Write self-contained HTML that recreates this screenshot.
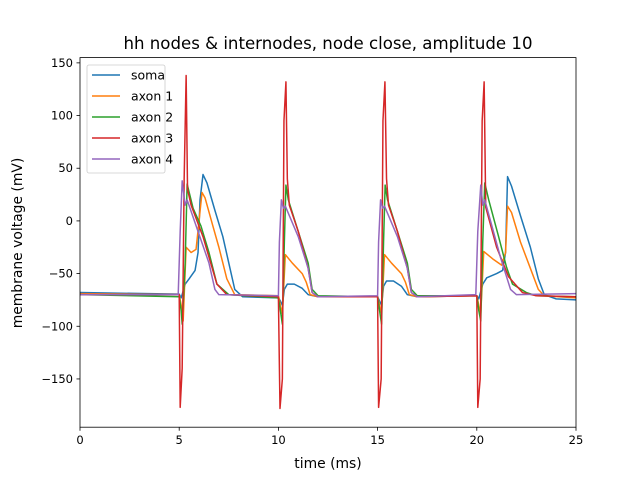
<!DOCTYPE html>
<html><head><meta charset="utf-8"><style>
body{margin:0;background:#fff}
svg{font-family:"DejaVu Sans","Liberation Sans",sans-serif}
</style></head><body>
<svg id="chart" width="640" height="480" viewBox="0 0 640 480">
<rect width="640" height="480" fill="#fff"/>
<text x="328" y="49" text-anchor="middle" font-size="16.6">hh nodes &amp; internodes, node close, amplitude 10</text>
<g id="plot"></g>
<g id="axes"></g>
<text x="328" y="468" text-anchor="middle" font-size="13.9">time (ms)</text>
<text transform="translate(22,243) rotate(-90)" text-anchor="middle" font-size="13.9">membrane voltage (mV)</text>
<g id="legend"></g>
</svg>
<script>
const xTicks=[0,5,10,15,20,25];
const yTicks=[150,100,50,0,-50,-100,-150];
const seriesNames=["soma","axon 1","axon 2","axon 3","axon 4"];
const colors=["#1f77b4","#ff7f0e","#2ca02c","#d62728","#9467bd"];
const soma=[[0,-68],[5,-69.5],[5.1,-73],[5.3,-60],[5.5,-55],[5.8,-47],[5.95,-30],[6.05,20],[6.2,44],[6.4,36],[6.8,10],[7.2,-15],[7.5,-40],[7.8,-65],[8.2,-72],[10,-73],[10.1,-76],[10.2,-80],[10.3,-65],[10.45,-60],[10.8,-60],[11.2,-64],[11.5,-70],[12,-72],[15,-72],[15.1,-76],[15.2,-80],[15.3,-62],[15.45,-57],[15.8,-57],[16.2,-62],[16.5,-70],[17,-72],[20,-71],[20.1,-74],[20.3,-60],[20.5,-54],[21,-50],[21.3,-47],[21.45,-30],[21.55,42],[21.75,33],[22.2,5],[22.7,-25],[23.1,-55],[23.4,-70],[24,-74],[25,-75]];
const axon1=[[0,-69],[5,-70],[5.1,-80],[5.2,-95],[5.35,-25],[5.6,-30],[5.85,-27],[6.0,0],[6.15,27],[6.3,22],[6.7,-5],[7.0,-25],[7.4,-55],[7.8,-70],[10,-71],[10.1,-80],[10.2,-88],[10.35,-32],[10.7,-40],[11.2,-50],[11.4,-58],[11.6,-70],[12,-72],[15,-72],[15.1,-80],[15.2,-88],[15.35,-32],[15.7,-40],[16.2,-50],[16.4,-58],[16.6,-70],[17,-72],[20,-71],[20.1,-80],[20.2,-88],[20.35,-29],[20.8,-36],[21.25,-42],[21.45,-30],[21.55,14],[21.75,8],[22.2,-20],[22.7,-45],[23.1,-65],[23.4,-71],[25,-73]];
const axon2=[[0,-70],[5,-72],[5.1,-85],[5.15,-98],[5.3,-40],[5.4,35],[5.7,12],[6.1,-5],[6.5,-30],[6.9,-60],[7.5,-70],[10,-73],[10.1,-85],[10.2,-98],[10.3,-20],[10.38,34],[10.5,20],[11,-10],[11.5,-40],[11.7,-65],[12,-71],[15,-72],[15.1,-85],[15.2,-98],[15.3,-20],[15.38,34],[15.5,20],[16,-10],[16.5,-40],[16.7,-65],[17,-71],[20,-71],[20.1,-85],[20.2,-95],[20.3,-20],[20.4,36],[20.6,20],[21.1,-15],[21.5,-44],[21.8,-60],[22.5,-68],[23,-71],[25,-72]];
const axon3=[[0,-70],[5,-70],[5.05,-177],[5.15,-140],[5.25,40],[5.35,138],[5.42,30],[5.6,15],[6.2,-15],[6.9,-60],[7.4,-70],[10,-72],[10.08,-178],[10.2,-150],[10.28,95],[10.38,132],[10.45,40],[10.55,15],[11,-10],[11.5,-45],[11.7,-68],[12,-72],[15,-72],[15.05,-177],[15.18,-150],[15.27,95],[15.37,132],[15.45,40],[15.55,15],[16,-10],[16.5,-45],[16.7,-68],[17,-72],[20,-71],[20.05,-177],[20.17,-150],[20.27,95],[20.37,132],[20.45,13],[21,-25],[21.6,-53],[22.3,-68],[23,-71],[25,-72]];
const axon4=[[0,-70],[4.95,-70],[5.05,-10],[5.15,38],[5.3,15],[5.4,20],[6.5,-40],[6.8,-65],[7.0,-70],[10,-71],[10.05,-20],[10.15,20],[10.25,12],[10.35,14],[11,-15],[11.5,-45],[11.7,-68],[12,-72],[15,-71],[15.05,-20],[15.15,20],[15.25,12],[15.35,14],[16,-15],[16.5,-45],[16.7,-68],[17,-72],[19.95,-70],[20.05,-10],[20.2,34],[20.3,15],[20.4,20],[21.2,-35],[21.7,-65],[22,-70],[25,-69]];
const allSeries=[soma,axon1,axon2,axon3,axon4];

const L=80,R=576,T=57.6,B=427.2,xMin=0,xMax=25,yMin=-195.8,yMax=155;
const sx=t=>L+(t-xMin)/(xMax-xMin)*(R-L);
const sy=v=>B-(v-yMin)/(yMax-yMin)*(B-T);
const NS="http://www.w3.org/2000/svg";
function mk(tag,attrs,parent){const e=document.createElementNS(NS,tag);for(const k in attrs)e.setAttribute(k,attrs[k]);parent.appendChild(e);return e;}
const plot=document.getElementById('plot'),axes=document.getElementById('axes'),legend=document.getElementById('legend');
const cp=mk('clipPath',{id:'clip'},plot);mk('rect',{x:L,y:T,width:R-L,height:B-T},cp);
allSeries.forEach((s,i)=>{
  const p=mk('path',{d:s.map((pt,j)=>(j?'L':'M')+sx(pt[0]).toFixed(2)+' '+sy(pt[1]).toFixed(2)).join(' '),fill:'none',stroke:colors[i],'stroke-width':1.5,'stroke-linejoin':'round','clip-path':'url(#clip)'},plot);
  
  
});
const frame=mk('rect',{x:L,y:T,width:R-L,height:B-T,fill:'none',stroke:'#000','stroke-width':0.8},axes);


xTicks.forEach(t=>{
  const x=sx(t);
  const tk=mk('line',{x1:x,x2:x,y1:B,y2:B+3.5,stroke:'#000','stroke-width':0.8},axes);
  
  
  const lb=mk('text',{x:x,y:B+17,'text-anchor':'middle','font-size':11.5},axes);lb.textContent=t;
  
  
});
yTicks.forEach(v=>{
  const y=sy(v);
  const tk=mk('line',{x1:L-3.5,x2:L,y1:y,y2:y,stroke:'#000','stroke-width':0.8},axes);
  
  
  const lb=mk('text',{x:L-7,y:y+4,'text-anchor':'end','font-size':11.5},axes);lb.textContent=v<0?'\u2212'+(-v):v;
  
  
});
const box=mk('rect',{x:87,y:65,width:78,height:108,rx:2,fill:'#fff','fill-opacity':0.8,stroke:'#ccc','stroke-width':0.8},legend);


seriesNames.forEach((n,i)=>{
  const y=75+i*21;
  const ln=mk('line',{x1:92,x2:120,y1:y,y2:y,stroke:colors[i],'stroke-width':1.5},legend);
  
  
  const tx=mk('text',{x:131,y:y+4.5,'font-size':12.5},legend);tx.textContent=n;
  
  
});
</script>
</body></html>
